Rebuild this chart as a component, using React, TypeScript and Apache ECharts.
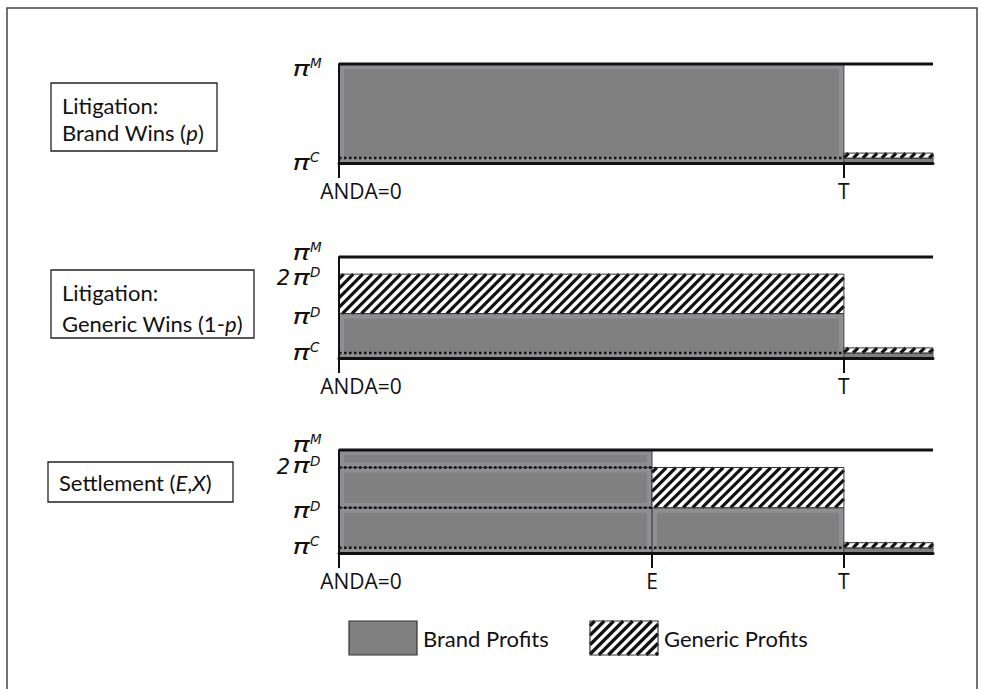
import React, { useEffect, useRef } from 'react';
import * as echarts from 'echarts';

// ---- data ----
const X_MAX = 100;
const E = 52.7;
const T = 85;
const PI_C = 5;
const PI_D = 44;
const TWO_PI_D = 83;
const PI_M = 100;
const GEN_AFTER_T = 10; // generic band after T
const BRAND = 0;
const GENERIC = 1;

const brandWinsRects = [
  [0, T, 0, PI_M, BRAND],
  [T, X_MAX, 0, PI_C, BRAND],
  [T, X_MAX, PI_C, GEN_AFTER_T, GENERIC],
];
const genericWinsRects = [
  [0, T, 0, PI_D, BRAND],
  [0, T, PI_D, TWO_PI_D, GENERIC],
  [T, X_MAX, 0, PI_C, BRAND],
  [T, X_MAX, PI_C, GEN_AFTER_T, GENERIC],
];
const settlementRects = [
  [0, E, TWO_PI_D, PI_M, BRAND],
  [0, E, PI_D, TWO_PI_D, BRAND],
  [0, E, 0, PI_D, BRAND],
  [E, T, 0, PI_D, BRAND],
  [E, T, PI_D, TWO_PI_D, GENERIC],
  [T, X_MAX, 0, PI_C, BRAND],
  [T, X_MAX, PI_C, GEN_AFTER_T, GENERIC],
];

// [x0, x1, y, dotted]
const brandWinsLines = [[0, T, PI_C, 1], [0, X_MAX, PI_M, 0]];
const genericWinsLines = [[0, T, PI_C, 1], [0, X_MAX, PI_M, 0]];
const settlementLines = [[0, T, PI_C, 1], [0, E, PI_D, 1], [0, E, TWO_PI_D, 1], [0, X_MAX, PI_M, 0]];

const brandWinsX = [0, T];
const genericWinsX = [0, T];
const settlementX = [0, E, T];

// [level, label index]
const brandWinsLevels = [[PI_C, 0], [PI_M, 3]];
const genericWinsLevels = [[PI_C, 0], [PI_D, 1], [TWO_PI_D, 2], [PI_M, 3]];
const settlementLevels = [[PI_C, 0], [PI_D, 1], [TWO_PI_D, 2], [PI_M, 3]];

const levelSups = ['C', 'D', 'D', 'M'];
const levelPrefix = ['', '', '2', ''];

const panelRects = [brandWinsRects, genericWinsRects, settlementRects];
const panelLines = [brandWinsLines, genericWinsLines, settlementLines];
const panelX = [brandWinsX, genericWinsX, settlementX];
const panelLevels = [brandWinsLevels, genericWinsLevels, settlementLevels];

// ---- layout / style ----
const gridLayout = [
  { top: 64, height: 99 },
  { top: 257, height: 101 },
  { top: 450, height: 103 },
];
// vertical nudge of each level label (px), same order as the level arrays
const labelNudge = [[6, 6], [1, 5, 5, -3], [0, 5, 0, -4]];
const GRAY = '#808080';
const INK = '#111';
const TXT_FONT = 'Lato';
const PI_FONT = 'DejaVu Sans';

function hatchLines(x: number, y: number, w: number, h: number, s: number, lw: number) {
  const out: any[] = [];
  const xe = x + w;
  const ye = y + h;
  for (let c = x + y + s / 2; c < xe + ye; c += s) {
    const xa = Math.max(x, c - ye);
    const xb = Math.min(xe, c - y);
    if (xb - xa > 0.3) {
      out.push({
        type: 'line',
        shape: { x1: xa, y1: c - xa, x2: xb, y2: c - xb },
        style: { stroke: INK, lineWidth: lw },
      });
    }
  }
  return out;
}

function renderRect(_params: any, api: any) {
  const x0 = api.value(0);
  const x1 = api.value(1);
  const y0 = api.value(2);
  const y1 = api.value(3);
  const kind = api.value(4);
  const p0 = api.coord([x0, y1]);
  const p1 = api.coord([x1, y0]);
  const x = p0[0];
  const y = p0[1];
  const w = p1[0] - p0[0];
  const h = p1[1] - p0[1];
  if (kind === BRAND) {
    const children: any[] = [
      { type: 'rect', shape: { x, y, width: w, height: h }, style: { fill: GRAY, stroke: '#4a4a4a', lineWidth: 1 } },
    ];
    if (h > 14) {
      children.push({
        type: 'rect',
        shape: { x: x + 3, y: y + 3, width: w - 6, height: h - 6 },
        style: { fill: 'none', stroke: '#8f8f93', lineWidth: 4 },
      });
    }
    return { type: 'group', children };
  }
  return {
    type: 'group',
    children: [
      { type: 'rect', shape: { x, y, width: w, height: h }, style: { fill: '#fff' } },
      ...hatchLines(x, y, w, h, 9.5, 3.2),
      { type: 'rect', shape: { x, y, width: w, height: h }, style: { fill: 'none', stroke: '#333', lineWidth: 1 } },
    ],
  };
}

function renderLine(_params: any, api: any) {
  const a = api.coord([api.value(0), api.value(2)]);
  const b = api.coord([api.value(1), api.value(2)]);
  const dotted = api.value(3) === 1;
  return {
    type: 'line',
    shape: { x1: a[0], y1: a[1], x2: b[0], y2: b[1] },
    style: dotted
      ? { stroke: INK, lineWidth: 2.5, lineDash: [2.5, 2.5] }
      : { stroke: INK, lineWidth: 3 },
  };
}

function makeLabelRenderer(panel: number) {
  return (params: any, api: any) => {
    const p = api.coord([0, api.value(0)]);
    const idx = api.value(1);
    const cy = p[1] + (labelNudge[panel][params.dataIndex] || 0);
    const ax = p[0];
    const children: any[] = [
      {
        type: 'text',
        x: ax - 38,
        y: cy - 2,
        scaleX: 1.3,
        style: {
          text: 'π', fontFamily: PI_FONT, fontStyle: 'italic', fontSize: 22, lineHeight: 14,
          fill: INK, align: 'center', verticalAlign: 'middle',
        },
      },
      {
        type: 'text',
        x: ax - 29,
        y: cy - 7,
        style: {
          text: levelSups[idx], fontFamily: PI_FONT, fontStyle: 'italic', fontSize: 13.5, lineHeight: 10,
          fill: INK, align: 'left', verticalAlign: 'middle',
        },
      },
    ];
    if (levelPrefix[idx]) {
      children.push({
        type: 'text',
        x: ax - 49,
        y: cy - 1,
        style: {
          text: levelPrefix[idx], fontFamily: PI_FONT, fontStyle: 'italic', fontSize: 21, lineHeight: 14,
          fill: INK, align: 'right', verticalAlign: 'middle',
        },
      });
    }
    return { type: 'group', children };
  };
}

const richX = {
  a: { fontFamily: 'Open Sans', fontSize: 21, color: INK, padding: [0, 0, 0, 44] },
  b: { fontFamily: 'Open Sans', fontSize: 21, color: INK },
};

function buildOption() {
  const grid = gridLayout.map((g) => ({ left: 339, right: 49, top: g.top, height: g.height, outerBoundsMode: 'none' }));
  const xAxis = panelX.map((ticks, i) => ({
    type: 'value',
    gridIndex: i,
    min: 0,
    max: X_MAX,
    z: 10,
    axisLine: { show: true, onZero: false, lineStyle: { color: INK, width: 3 } },
    axisTick: { show: true, customValues: ticks, length: 15, lineStyle: { color: INK, width: 2 } },
    axisLabel: {
      show: true,
      customValues: ticks,
      margin: 17,
      formatter: (v: number) => (v === 0 ? '{a|ANDA=0}' : `{b|${v === T ? 'T' : 'E'}}`),
      rich: richX,
    },
    splitLine: { show: false },
  }));
  const yAxis = panelLevels.map((_levels, i) => ({
    type: 'value',
    gridIndex: i,
    min: 0,
    max: PI_M,
    z: 10,
    axisLine: { show: true, onZero: false, lineStyle: { color: INK, width: 2 } },
    axisTick: { show: false },
    splitLine: { show: false },
    axisLabel: { show: false },
  }));
  const series: any[] = [];
  panelRects.forEach((rects, i) => {
    series.push({ type: 'custom', xAxisIndex: i, yAxisIndex: i, z: 2, data: rects, renderItem: renderRect, silent: true });
    series.push({ type: 'custom', xAxisIndex: i, yAxisIndex: i, z: 3, data: panelLines[i], renderItem: renderLine, silent: true });
    series.push({
      type: 'custom', xAxisIndex: i, yAxisIndex: i, z: 4, data: panelLevels[i],
      renderItem: makeLabelRenderer(i), silent: true, clip: false,
    });
  });

  const txt = (x: number, y: number, text: string, size = 22) => ({
    type: 'text',
    x,
    y,
    style: {
      text,
      fill: INK,
      fontFamily: TXT_FONT,
      fontSize: size,
      verticalAlign: 'middle',
      rich: {
        i: { fontFamily: TXT_FONT, fontSize: size, fontStyle: 'italic', fill: INK },
        n: { fontFamily: TXT_FONT, fontSize: size, fill: INK },
      },
    },
  });
  const box = (x: number, y: number, w: number, h: number) => ({
    type: 'rect',
    shape: { x, y, width: w, height: h },
    style: { fill: '#fff', stroke: '#222', lineWidth: 1.3 },
  });

  const graphic: any[] = [
    { type: 'rect', shape: { x: 7, y: 8, width: 970, height: 720 }, style: { fill: 'none', stroke: '#444', lineWidth: 1.5 }, z: 0 },
    box(51, 83, 166, 68),
    txt(62, 105, '{n|Litigation:}'),
    txt(62, 132, '{n|Brand Wins (}{i|p}{n|)}'),
    box(51, 270, 203, 68),
    txt(62, 292, '{n|Litigation:}'),
    txt(62, 323, '{n|Generic Wins (1-}{i|p}{n|)}'),
    box(48, 462, 185, 40),
    txt(59, 482, '{n|Settlement (}{i|E}{n|,}{i|X}{n|)}'),
    { type: 'rect', shape: { x: 349, y: 621, width: 68, height: 34 }, style: { fill: GRAY, stroke: '#333', lineWidth: 1.2 } },
    txt(423, 638, '{n|Brand Profits}', 22),
    { type: 'rect', shape: { x: 590, y: 621, width: 68, height: 34 }, style: { fill: '#fff' } },
    ...hatchLines(590, 621, 68, 34, 9.5, 3.2),
    { type: 'rect', shape: { x: 590, y: 621, width: 68, height: 34 }, style: { fill: 'none', stroke: '#333', lineWidth: 1.2 } },
    txt(664, 638, '{n|Generic Profits}', 22),
  ];

  return { animation: false, backgroundColor: '#fff', grid, xAxis, yAxis, series, graphic };
}

export default function App() {
  const ref = useRef<HTMLDivElement>(null);
  useEffect(() => {
    document.body.style.margin = '0';
    const chart = echarts.init(ref.current!, null, { renderer: 'svg' });
    chart.setOption(buildOption() as any);
    return () => chart.dispose();
  }, []);
  return <div ref={ref} style={{ width: 982, height: 689 }} />;
}
